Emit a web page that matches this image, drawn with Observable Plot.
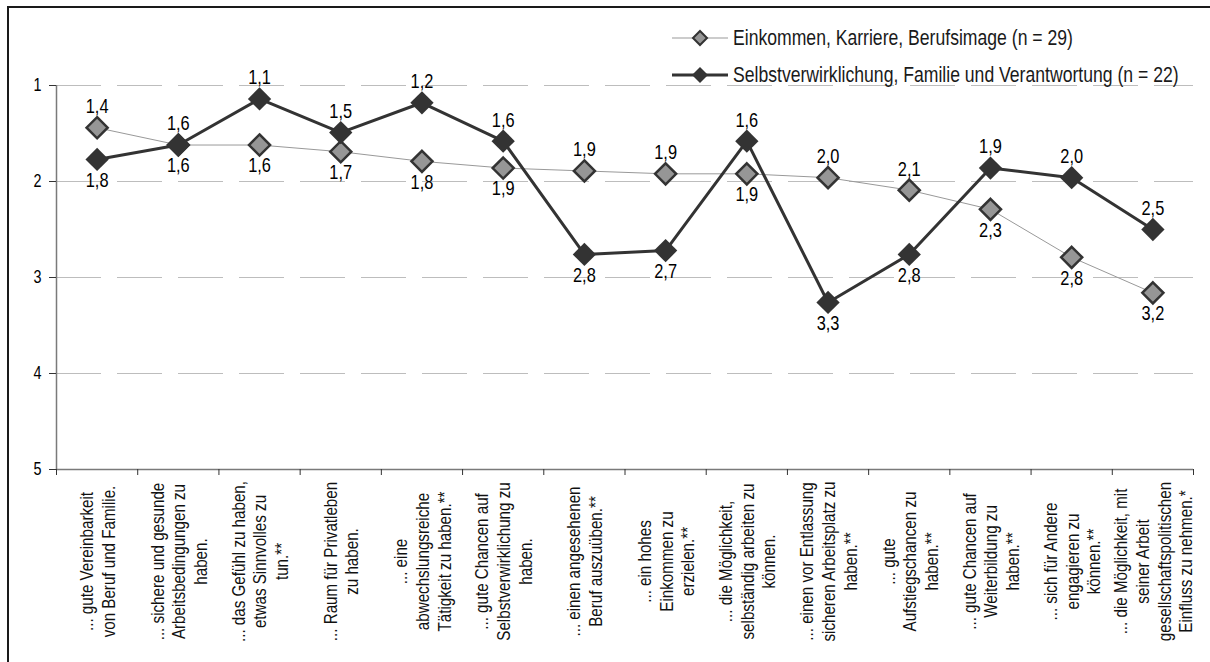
<!DOCTYPE html>
<html><head><meta charset="utf-8">
<script src="https://cdn.jsdelivr.net/npm/d3@7"></script>
<script src="https://cdn.jsdelivr.net/npm/@observablehq/plot@0.6"></script>
<style>
body{margin:0;background:#fff;}
#wrap{position:relative;width:1210px;height:662px;overflow:hidden;font-family:"Liberation Sans",Arial,sans-serif;}
#chart{position:absolute;left:0;top:0;}
#frame{position:absolute;left:7px;top:6px;width:1240px;height:700px;border-top:2px solid #1a1a1a;border-left:2px solid #1a1a1a;pointer-events:none;}
#legend{position:absolute;left:672px;top:19px;font-size:22px;color:#1a1a1a;}
.row{display:flex;align-items:center;height:37px;white-space:nowrap;}
.row svg{margin-right:5px;flex:none;}
.row span{display:inline-block;transform:scaleX(0.8);transform-origin:0 50%;}
</style></head><body>
<div id="wrap"><div id="chart"></div><div id="legend"></div><div id="frame"></div></div>
<script>
const categories = [
  "... gute Vereinbarkeit\nvon Beruf und Familie.",
  "... sichere und gesunde\nArbeitsbedingungen zu\nhaben.",
  "... das Gefühl zu haben,\netwas Sinnvolles zu\ntun.**",
  "... Raum für Privatleben\nzu haben.",
  "... eine\nabwechslungsreiche\nTätigkeit zu haben.**",
  "... gute Chancen auf\nSelbstverwirklichung zu\nhaben.",
  "... einen angesehenen\nBeruf auszuüben.**",
  "... ein hohes\nEinkommen zu\nerzielen.**",
  "... die Möglichkeit,\nselbständig arbeiten zu\nkönnen.",
  "... einen vor Entlassung\nsicheren Arbeitsplatz zu\nhaben.**",
  "... gute\nAufstiegschancen zu\nhaben.**",
  "... gute Chancen auf\nWeiterbildung zu\nhaben.**",
  "... sich für Andere\nengagieren zu\nkönnen.**",
  "... die Möglichkeit, mit\nseiner Arbeit\ngesellschaftspolitischen\nEinfluss zu nehmen.*"
];
const seriesNames = [
  "Einkommen, Karriere, Berufsimage (n = 29)",
  "Selbstverwirklichung, Familie und Verantwortung (n = 22)"
];
const einkommen = [1.44, 1.62, 1.62, 1.69, 1.79, 1.86, 1.89, 1.92, 1.92, 1.96, 2.09, 2.29, 2.79, 3.16];
const selbst    = [1.77, 1.62, 1.14, 1.49, 1.18, 1.58, 2.76, 2.72, 1.58, 3.26, 2.76, 1.86, 1.96, 2.50];
const yTicks = [1, 2, 3, 4, 5];

const fmt = v => v.toFixed(1).replace(".", ",");
const grey = einkommen.map((v, i) => ({i, v, above: v < selbst[i]}));
const black = selbst.map((v, i) => ({i, v, above: v <= einkommen[i]}));
const xi = d => d.i + 0.5;
const FONT = '"Liberation Sans",Arial,sans-serif';

const chart = Plot.plot({
  width: 1210, height: 662,
  marginLeft: 56, marginRight: 17, marginTop: 85, marginBottom: 193,
  style: {fontFamily: FONT, fontSize: "17px", color: "#000", background: "transparent", overflow: "visible"},
  x: {type: "linear", domain: [0, categories.length], axis: null},
  y: {domain: [yTicks[0], yTicks[yTicks.length - 1]], reverse: true, axis: null},
  marks: [
    Plot.ruleY(yTicks.filter(t => t < 5), {stroke: "#bdbdbd", strokeWidth: 1.2, strokeDasharray: "45,16"}),
    Plot.ruleX([0], {stroke: "#7a7a7a", strokeWidth: 1.5}),
    Plot.ruleY([5], {stroke: "#7a7a7a", strokeWidth: 1.5}),
    Plot.axisY(yTicks, {tickSize: 7, tickPadding: 8, stroke: "#333", fontSize: 17.5, fill: "#000", tickFormat: d => String(d), label: null}),
    Plot.axisX(d3.range(categories.length + 1), {tickSize: 6, tickFormat: () => "", stroke: "#333", label: null}),
    Plot.text(categories, {x: (d, i) => i + 0.5, frameAnchor: "bottom", rotate: -90, dy: 92,
      textAnchor: "middle", lineAnchor: "middle", lineHeight: 1.17, fontSize: 18.5, fill: "#111"}),
    Plot.line(grey, {x: xi, y: "v", stroke: "#999", strokeWidth: 1}),
    Plot.dot(grey, {x: xi, y: "v", symbol: "diamond2", r: 9.5, fill: "#969696", stroke: "#333", strokeWidth: 2.5}),
    Plot.line(black, {x: xi, y: "v", stroke: "#333", strokeWidth: 3}),
    Plot.dot(black, {x: xi, y: "v", symbol: "diamond2", r: 10.5, fill: "#333", stroke: "none"}),
    Plot.text(grey.filter(d => d.above), {x: xi, y: "v", text: d => fmt(d.v), dy: -21, fontSize: 20, fill: "#000"}),
    Plot.text(grey.filter(d => !d.above), {x: xi, y: "v", text: d => fmt(d.v), dy: 21, fontSize: 20, fill: "#000"}),
    Plot.text(black.filter(d => d.above), {x: xi, y: "v", text: d => fmt(d.v), dy: -21, fontSize: 20, fill: "#000"}),
    Plot.text(black.filter(d => !d.above), {x: xi, y: "v", text: d => fmt(d.v), dy: 21, fontSize: 20, fill: "#000"})
  ]
});
// emulate a narrow typeface: compress every text along its own writing direction
chart.querySelectorAll("text").forEach(t => {
  const tr = t.getAttribute("transform");
  if (tr) t.setAttribute("transform", tr + " scale(0.82,1)");
});
document.getElementById("chart").appendChild(chart);

const legend = document.getElementById("legend");
const sw = [
  `<svg width="56" height="20"><line x1="0" x2="56" y1="10" y2="10" stroke="#999" stroke-width="1"/><polygon points="28,3 35,10 28,17 21,10" fill="#969696" stroke="#333" stroke-width="2"/></svg>`,
  `<svg width="56" height="20"><line x1="0" x2="56" y1="10" y2="10" stroke="#333" stroke-width="3"/><polygon points="28,2 36,10 28,18 20,10" fill="#333"/></svg>`
];
seriesNames.forEach((n, k) => {
  const row = document.createElement("div");
  row.className = "row";
  row.innerHTML = sw[k] + `<span>${n}</span>`;
  legend.appendChild(row);
});
</script>
</body></html>
